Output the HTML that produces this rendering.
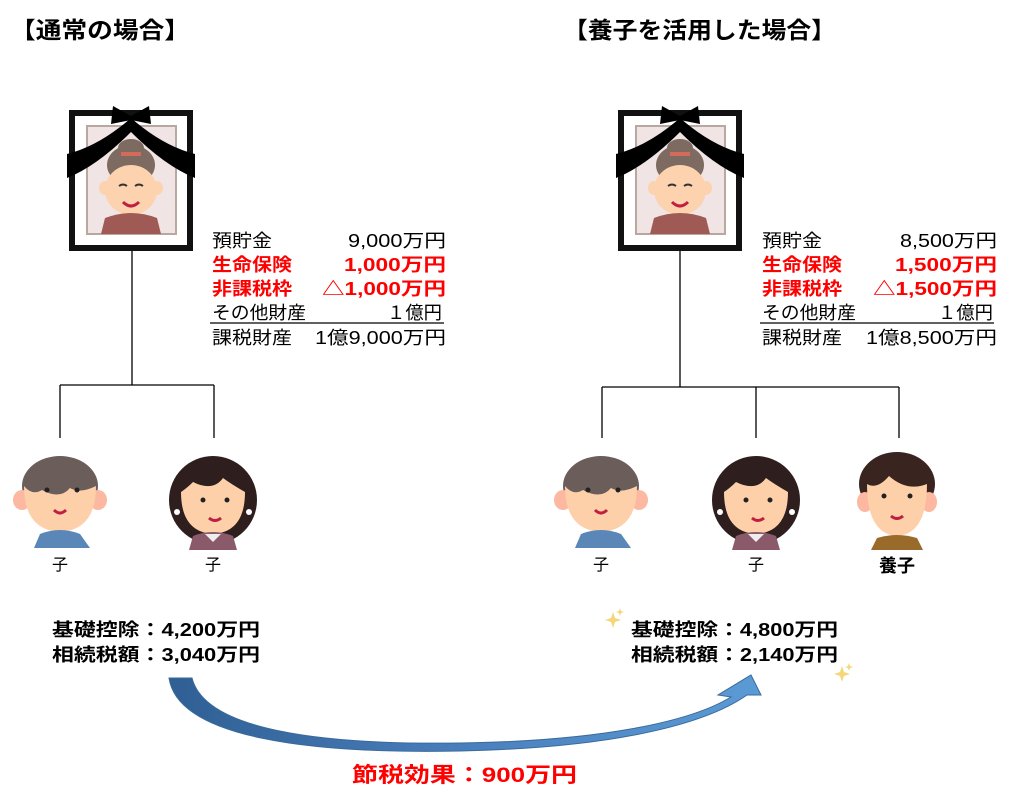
<!DOCTYPE html>
<html><head><meta charset="utf-8">
<style>
html,body{margin:0;padding:0;background:#fff;}
body{width:1017px;height:807px;overflow:hidden;position:relative;font-family:"Liberation Sans","Noto Sans CJK JP",sans-serif;}
svg{position:absolute;left:0;top:0;}
text{font-family:"Liberation Sans","Noto Sans CJK JP",sans-serif;}
</style></head><body>
<svg width="1017" height="807" viewBox="0 0 1017 807" xmlns="http://www.w3.org/2000/svg">
<defs>
<linearGradient id="ar" x1="0" y1="0" x2="1" y2="0">
<stop offset="0" stop-color="#2f5f93"/><stop offset="0.5" stop-color="#4a7fbd"/><stop offset="1" stop-color="#5b9bd5"/>
</linearGradient>
<g id="frame">
<rect x="0" y="0" width="124" height="141" fill="#111"/>
<rect x="6" y="6" width="112" height="129" fill="#fff"/>
<rect x="18" y="16" width="89" height="108" fill="#f0e4e4" stroke="#b8a8a0" stroke-width="2"/>
<ellipse cx="62" cy="55" rx="24" ry="20" fill="#7d6a60"/>
<ellipse cx="62" cy="38" rx="13" ry="9" fill="#7d6a60"/>
<rect x="52" y="42" width="20" height="4" fill="#d46a5a"/>
<ellipse cx="62" cy="80" rx="26" ry="25" fill="#fcd3ae"/>
<ellipse cx="36" cy="78" rx="6" ry="7" fill="#fcd3ae"/>
<ellipse cx="88" cy="78" rx="6" ry="7" fill="#fcd3ae"/>
<path d="M50,76 q4,-3 8,0 M66,76 q4,-3 8,0" stroke="#333" stroke-width="2" fill="none"/>
<path d="M54,92 q8,8 16,0" stroke="#c02040" stroke-width="3" fill="none"/>
<path d="M32,124 L36,108 Q62,98 88,108 L92,124 Z" fill="#a05a55"/>
<path d="M-2,44 Q30,36 62,8 Q94,36 126,44 L126,68 Q96,56 62,22 Q28,56 -2,68 Z" fill="#000"/>
<path d="M44,-4 L62,6 L80,-4 L82,14 L62,10 L42,14 Z" fill="#000"/>
</g>
<g id="man">
<ellipse cx="0" cy="0" rx="38" ry="30" fill="#6b5d59"/>
<ellipse cx="-38" cy="14" rx="9" ry="10" fill="#fcb8a0"/>
<ellipse cx="38" cy="14" rx="9" ry="10" fill="#fcb8a0"/>
<path d="M-36,0 Q-36,44 0,46 Q36,44 36,0 Q20,8 10,2 Q0,14 -18,4 Q-28,10 -36,0 Z" fill="#fdd0aa"/>
<circle cx="-13" cy="4" r="2.5" fill="#222"/><circle cx="17" cy="4" r="2.5" fill="#222"/>
<path d="M-6,24 q6,6 12,0" stroke="#c02040" stroke-width="3" fill="none"/>
<path d="M-26,62 L-20,48 Q0,40 20,48 L30,62 Z" fill="#5a86b8"/>
</g>
<g id="woman">
<ellipse cx="0" cy="12" rx="44" ry="44" fill="#2e1e1e"/>
<path d="M-32,4 Q-32,44 0,46 Q32,44 32,4 Q18,-4 10,-10 Q0,4 -20,-6 Q-26,0 -32,4 Z" fill="#fdd0aa"/>
<circle cx="-10" cy="12" r="2.5" fill="#222"/><circle cx="14" cy="12" r="2.5" fill="#222"/>
<circle cx="-36" cy="24" r="3" fill="#fff"/><circle cx="36" cy="24" r="3" fill="#fff"/>
<path d="M-4,30 q6,5 12,0" stroke="#c02040" stroke-width="3" fill="none"/>
<path d="M-24,62 L-20,48 Q0,40 20,48 L24,62 Z" fill="#8a5a6a"/>
<path d="M-8,46 L0,54 L8,46 Z" fill="#eee"/>
</g>
<g id="son">
<ellipse cx="0" cy="0" rx="38" ry="32" fill="#3a2420"/>
<ellipse cx="-32" cy="18" rx="8" ry="10" fill="#fcb8a0"/>
<ellipse cx="32" cy="18" rx="8" ry="10" fill="#fcb8a0"/>
<path d="M-30,0 Q-30,50 0,52 Q30,50 30,0 Q10,8 -8,-8 Q-20,6 -30,0 Z" fill="#fdd0aa"/>
<circle cx="-13" cy="12" r="2.5" fill="#222"/><circle cx="13" cy="12" r="2.5" fill="#222"/>
<path d="M-6,32 q6,5 12,0" stroke="#c02040" stroke-width="3" fill="none"/>
<path d="M-26,66 L-20,54 Q0,48 20,54 L26,66 Z" fill="#9a6a2a"/>
</g>
</defs>

<text x="10" y="38" font-size="23" font-weight="bold" textLength="180" lengthAdjust="spacingAndGlyphs">【通常の場合】</text>
<text x="563" y="38" font-size="23" font-weight="bold" textLength="273" lengthAdjust="spacingAndGlyphs">【養子を活用した場合】</text>

<use href="#frame" x="69" y="110"/>
<use href="#frame" x="618" y="110"/>

<g stroke="#000" stroke-width="1.3">
<line x1="132" y1="251" x2="132" y2="385"/>
<line x1="60" y1="385" x2="214" y2="385"/>
<line x1="60" y1="385" x2="60" y2="438"/>
<line x1="214" y1="385" x2="214" y2="438"/>
<line x1="680" y1="251" x2="680" y2="387"/>
<line x1="602" y1="387" x2="899" y2="387"/>
<line x1="602" y1="387" x2="602" y2="438"/>
<line x1="756" y1="387" x2="756" y2="438"/>
<line x1="899" y1="387" x2="899" y2="438"/>
<line x1="210" y1="323" x2="444" y2="323"/>
<line x1="760" y1="323" x2="994" y2="323"/>
</g>

<g font-size="18" lengthAdjust="spacingAndGlyphs">
<text x="212" y="247" textLength="60" lengthAdjust="spacingAndGlyphs">預貯金</text><text x="348" y="247" textLength="98" lengthAdjust="spacingAndGlyphs">9,000万円</text>
<text x="212" y="271" fill="#f00" font-weight="bold" textLength="80" lengthAdjust="spacingAndGlyphs">生命保険</text><text x="344" y="271" fill="#f00" font-weight="bold" textLength="102" lengthAdjust="spacingAndGlyphs">1,000万円</text>
<text x="212" y="295" fill="#f00" font-weight="bold" textLength="80" lengthAdjust="spacingAndGlyphs">非課税枠</text><text x="322" y="295" fill="#f00" font-weight="bold" textLength="124" lengthAdjust="spacingAndGlyphs">△1,000万円</text>
<text x="212" y="319" textLength="94" lengthAdjust="spacingAndGlyphs">その他財産</text><text x="387" y="319" textLength="55" lengthAdjust="spacingAndGlyphs">１億円</text>
<text x="212" y="344" textLength="80" lengthAdjust="spacingAndGlyphs">課税財産</text><text x="315" y="344" textLength="131" lengthAdjust="spacingAndGlyphs">1億9,000万円</text>

<text x="762" y="247" textLength="60" lengthAdjust="spacingAndGlyphs">預貯金</text><text x="900" y="247" textLength="97" lengthAdjust="spacingAndGlyphs">8,500万円</text>
<text x="762" y="271" fill="#f00" font-weight="bold" textLength="80" lengthAdjust="spacingAndGlyphs">生命保険</text><text x="895" y="271" fill="#f00" font-weight="bold" textLength="102" lengthAdjust="spacingAndGlyphs">1,500万円</text>
<text x="762" y="295" fill="#f00" font-weight="bold" textLength="80" lengthAdjust="spacingAndGlyphs">非課税枠</text><text x="873" y="295" fill="#f00" font-weight="bold" textLength="124" lengthAdjust="spacingAndGlyphs">△1,500万円</text>
<text x="762" y="319" textLength="94" lengthAdjust="spacingAndGlyphs">その他財産</text><text x="938" y="319" textLength="55" lengthAdjust="spacingAndGlyphs">１億円</text>
<text x="762" y="344" textLength="80" lengthAdjust="spacingAndGlyphs">課税財産</text><text x="866" y="344" textLength="131" lengthAdjust="spacingAndGlyphs">1億8,500万円</text>
</g>

<use href="#man" x="60" y="486"/>
<use href="#woman" x="213" y="488"/>
<use href="#man" x="601" y="486"/>
<use href="#woman" x="756" y="488"/>
<use href="#son" x="897" y="484"/>

<g font-size="16">
<text x="60" y="570" text-anchor="middle">子</text>
<text x="213" y="570" text-anchor="middle">子</text>
<text x="601" y="570" text-anchor="middle">子</text>
<text x="756" y="570" text-anchor="middle">子</text>
<text x="897" y="572" text-anchor="middle" font-size="18" font-weight="bold">養子</text>
</g>

<g font-size="18" font-weight="bold">
<text x="52" y="636" textLength="208" lengthAdjust="spacingAndGlyphs">基礎控除：4,200万円</text>
<text x="52" y="661" textLength="208" lengthAdjust="spacingAndGlyphs">相続税額：3,040万円</text>
<text x="631" y="636" textLength="207" lengthAdjust="spacingAndGlyphs">基礎控除：4,800万円</text>
<text x="631" y="661" textLength="207" lengthAdjust="spacingAndGlyphs">相続税額：2,140万円</text>
</g>
<g fill="#f5d77a">
<path d="M613,612 l2,6 l6,2 l-6,2 l-2,6 l-2,-6 l-6,-2 l6,-2 z"/>
<path d="M620,608 l1,3 l3,1 l-3,1 l-1,3 l-1,-3 l-3,-1 l3,-1 z"/>
<path d="M842,666 l2,6 l6,2 l-6,2 l-2,6 l-2,-6 l-6,-2 l6,-2 z"/>
<path d="M849,663 l1,3 l3,1 l-3,1 l-1,3 l-1,-3 l-3,-1 l3,-1 z"/>
</g>

<path d="M169,678 L192,678 C205,730 320,745 460,743 C600,741 690,722 731,697 L718,695 L751,675 L761,695 L747,695 C700,728 600,748 460,751 C310,754 178,738 169,678 Z" fill="url(#ar)" stroke="#3a6a9a" stroke-width="1"/>

<text x="352" y="782" font-size="21" font-weight="bold" fill="#f00" textLength="225" lengthAdjust="spacingAndGlyphs">節税効果：900万円</text>
</svg>
</body></html>
